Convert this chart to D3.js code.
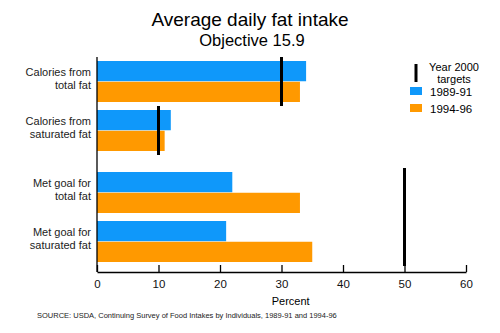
<!DOCTYPE html>
<html><head><meta charset="utf-8">
<script src="https://cdn.jsdelivr.net/npm/d3@7"></script>
<style>body{margin:0;background:#fff}svg{display:block;font-family:"Liberation Sans",Arial,Helvetica,sans-serif}</style>
</head><body><svg id="c" width="500" height="333"></svg>
<script>
const categories = ["Calories from|total fat","Calories from|saturated fat","Met goal for|total fat","Met goal for|saturated fat"];
const series = ["1989-91","1994-96"];
const values1989 = [34, 12, 22, 21];
const values1994 = [33, 11, 33, 35];
const targets = [{cats:[0], value:30},{cats:[1], value:10},{cats:[2,3], value:50}];
const xTicks = [0,10,20,30,40,50,60];
const colors = ["#0f98fa","#ff9900"];

const svg = d3.select("#c");
const x = d3.scaleLinear().domain([0,60]).range([97,466]);
const yCenter = d3.scaleOrdinal().domain(categories).range([81.5,130.5,192.5,241.5]);
const barH = 20, gap = 1;
const sub = d3.scaleBand().domain(series).range([-barH-gap/2, barH+gap/2]).paddingInner(gap/(2*barH+gap));

svg.append("text").attr("x",250).attr("y",26).attr("text-anchor","middle").attr("font-size",19).text("Average daily fat intake");
svg.append("text").attr("x",252).attr("y",46).attr("text-anchor","middle").attr("font-size",16.5).text("Objective 15.9");

const data = [];
categories.forEach((c,i)=>{data.push({c,s:series[0],v:values1989[i]});data.push({c,s:series[1],v:values1994[i]});});
svg.append("g").selectAll("rect").data(data).join("rect")
  .attr("x",x(0)).attr("y",d=>yCenter(d.c)+sub(d.s)).attr("height",sub.bandwidth())
  .attr("width",d=>x(d.v)-x(0)).attr("fill",d=>colors[series.indexOf(d.s)]);

// category labels
categories.forEach(c=>{
  const [a,b]=c.split("|");
  const g=svg.append("text").attr("text-anchor","end").attr("font-size",11).attr("fill","#222");
  g.append("tspan").attr("x",91).attr("y",yCenter(c)-6).text(a);
  g.append("tspan").attr("x",91).attr("y",yCenter(c)+7.5).text(b);
});

// axes
const ax = d3.axisBottom(x).tickValues(xTicks).tickSize(-7).tickSizeOuter(0).tickPadding(8);
const gx = svg.append("g").attr("transform","translate(0,272)").call(ax);
gx.select(".domain").attr("stroke","#000").attr("stroke-width",1.3);
gx.selectAll(".tick line").attr("stroke","#000").attr("stroke-width",1.3);
gx.selectAll(".tick text").attr("font-size",11.5).attr("font-family","Liberation Sans, Arial, sans-serif").attr("fill","#111");
svg.append("line").attr("x1",x(0)).attr("x2",x(0)).attr("y1",57).attr("y2",272).attr("stroke","#000").attr("stroke-width",1.3);
svg.append("text").attr("x",x(31.5)).attr("y",305).attr("text-anchor","middle").attr("font-size",11).text("Percent");
svg.append("text").attr("x",37).attr("y",318).attr("font-size",7.5).attr("fill","#222").text("SOURCE: USDA, Continuing Survey of Food Intakes by Individuals, 1989-91 and 1994-96");

// targets
targets.forEach(t=>{
  const top = d3.min(t.cats,i=>yCenter(categories[i]))-barH-gap/2-4;
  const bot = d3.max(t.cats,i=>yCenter(categories[i]))+barH+gap/2+4;
  svg.append("line").attr("x1",x(t.value)).attr("x2",x(t.value)).attr("y1",top).attr("y2",bot).attr("stroke","#000").attr("stroke-width",3);
});

// legend
svg.append("line").attr("x1",416).attr("x2",416).attr("y1",64).attr("y2",82).attr("stroke","#000").attr("stroke-width",3);
svg.append("text").attr("x",454).attr("y",71).attr("text-anchor","middle").attr("font-size",11).text("Year 2000");
svg.append("text").attr("x",454).attr("y",82.5).attr("text-anchor","middle").attr("font-size",11).text("targets");
series.forEach((s,i)=>{
  svg.append("rect").attr("x",410).attr("y",87+i*17).attr("width",12).attr("height",8).attr("fill",colors[i]);
  svg.append("text").attr("x",430).attr("y",95.5+i*17).attr("font-size",11.5).text(s);
});
</script></body></html>
